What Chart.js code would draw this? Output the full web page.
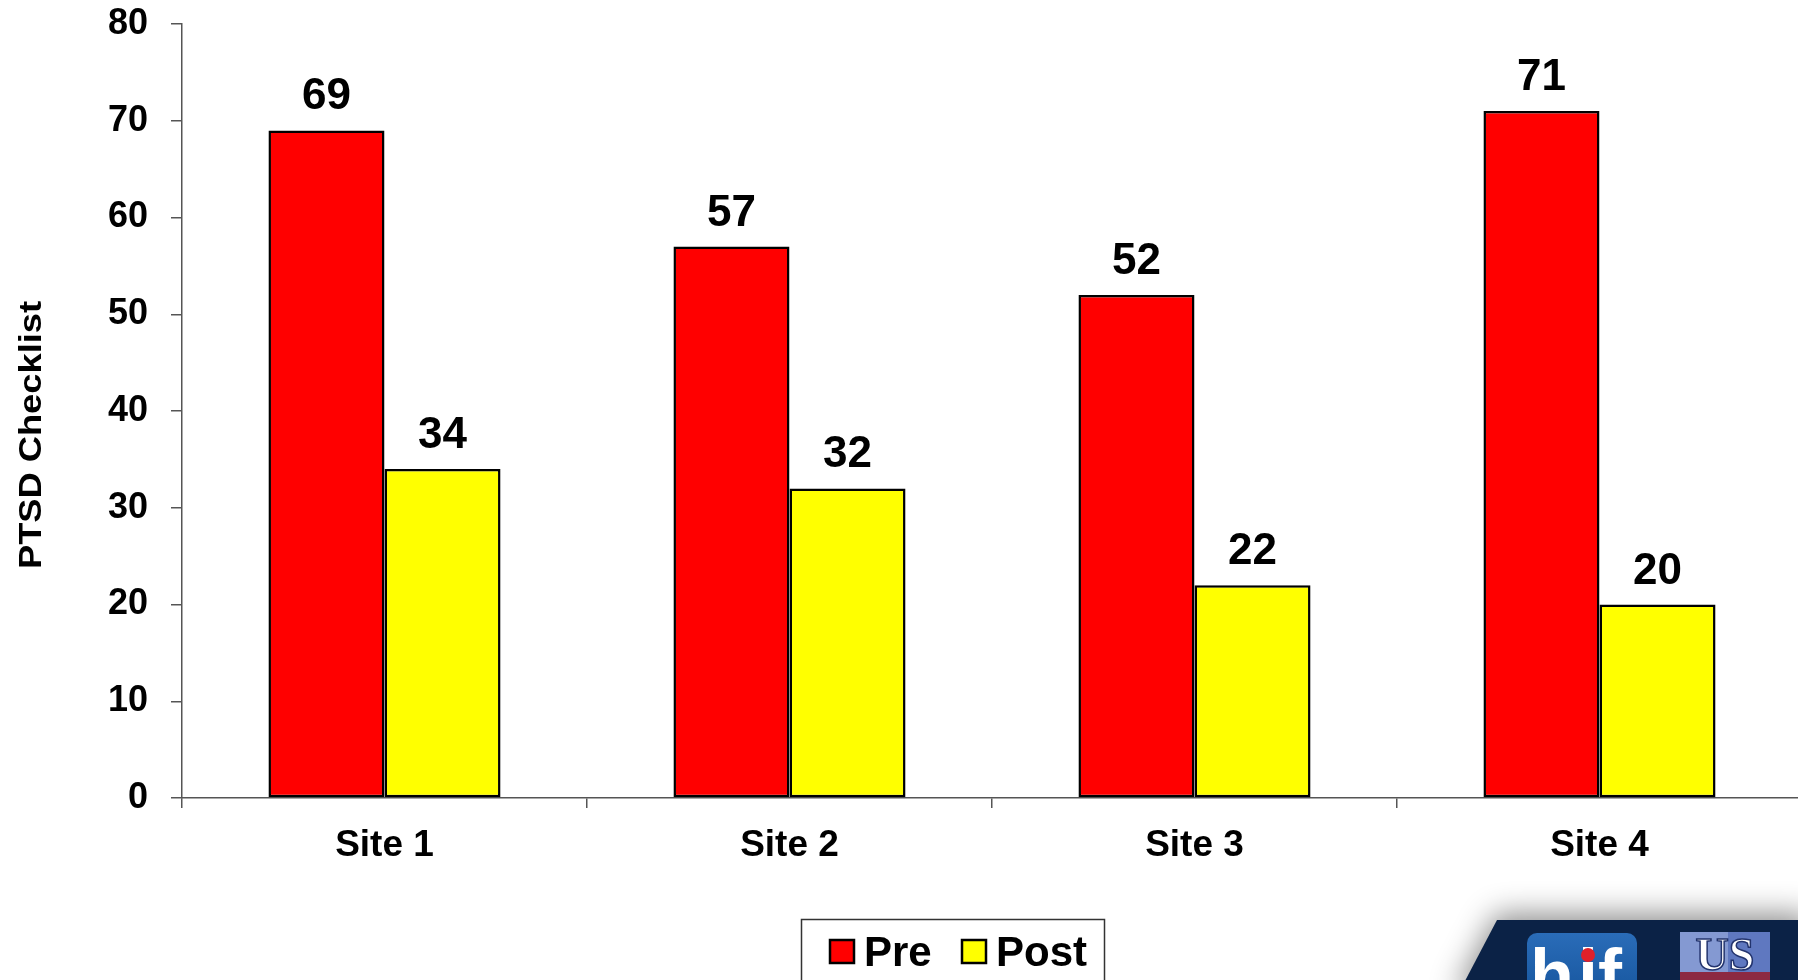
<!DOCTYPE html>
<html>
<head>
<meta charset="utf-8">
<title>PTSD Checklist by site</title>
<script src="https://cdn.jsdelivr.net/npm/chart.js@4/dist/chart.umd.min.js"></script>
<style>
  html, body { margin: 0; padding: 0; background: #fff; overflow: hidden; }
  #wrap { width: 1802px; height: 980px; }
</style>
</head>
<body>
<div id="wrap"><canvas id="chart" width="1802" height="980"></canvas></div>
<script>
// Chart data
const categories = ['Site 1', 'Site 2', 'Site 3', 'Site 4'];
const preValues = [69, 57, 52, 71];
const postValues = [34, 32, 22, 20];
const seriesNames = ['Pre', 'Post'];
const yAxisTitle = 'PTSD Checklist';
const yMin = 0, yMax = 80, yStep = 10;

const FONT = '"Liberation Sans", Arial, Helvetica, sans-serif';
const AXIS_COLOR = '#555555';

// Value labels above each bar
const valueLabels = {
  id: 'valueLabels',
  afterDatasetsDraw(chart) {
    const ctx = chart.ctx;
    ctx.save();
    ctx.fillStyle = '#000';
    ctx.font = 'bold 44px ' + FONT;
    ctx.textAlign = 'center';
    ctx.textBaseline = 'alphabetic';
    chart.data.datasets.forEach((ds, di) => {
      const meta = chart.getDatasetMeta(di);
      meta.data.forEach((bar, i) => {
        ctx.fillText(String(ds.data[i]), bar.x, bar.y - 21);
      });
    });
    ctx.restore();
  }
};

// Axis title, boxed legend and the corner badge
const decorations = {
  id: 'decorations',
  afterDraw(chart) {
    const ctx = chart.ctx;

    // rotated y-axis title (slightly widened lettering)
    ctx.save();
    ctx.translate(32, 435);
    ctx.rotate(-Math.PI / 2);
    ctx.scale(1.17, 1);
    ctx.fillStyle = '#000';
    ctx.font = 'bold 31px ' + FONT;
    ctx.textAlign = 'center';
    ctx.textBaseline = 'middle';
    ctx.fillText(yAxisTitle, 0, 0);
    ctx.restore();

    // legend frame and entries
    ctx.save();
    ctx.strokeStyle = '#333';
    ctx.lineWidth = 1.5;
    ctx.strokeRect(801.5, 919.5, 303, 120);
    const entries = [
      { x: 830, tx: 864 },
      { x: 962, tx: 996 }
    ];
    ctx.font = 'bold 42px ' + FONT;
    ctx.textBaseline = 'alphabetic';
    ctx.textAlign = 'left';
    chart.data.datasets.forEach((ds, i) => {
      const e = entries[i];
      ctx.fillStyle = ds.backgroundColor;
      ctx.fillRect(e.x, 940, 24, 23);
      ctx.strokeStyle = '#000';
      ctx.lineWidth = 2.5;
      ctx.strokeRect(e.x, 940, 24, 23);
      ctx.fillStyle = '#000';
      ctx.fillText(ds.label, e.tx, 966);
    });
    ctx.restore();

    // badge in the lower right corner
    ctx.save();
    ctx.shadowColor = 'rgba(0,0,0,0.45)';
    ctx.shadowBlur = 30;
    ctx.shadowOffsetY = -6;
    ctx.fillStyle = '#0b2246';
    ctx.beginPath();
    ctx.moveTo(1497, 920);
    ctx.lineTo(1810, 920);
    ctx.lineTo(1810, 1000);
    ctx.lineTo(1455, 1000);
    ctx.closePath();
    ctx.fill();
    ctx.restore();

    ctx.save();
    // blue rounded tile
    const g = ctx.createLinearGradient(0, 933, 0, 985);
    g.addColorStop(0, '#2a6cb8');
    g.addColorStop(1, '#1a5aa3');
    ctx.fillStyle = g;
    ctx.beginPath();
    ctx.roundRect(1527, 933, 110, 70, 10);
    ctx.fill();
    ctx.fillStyle = '#fff';
    ctx.font = 'bold 72px ' + FONT;
    ctx.textBaseline = 'alphabetic';
    ctx.textAlign = 'left';
    ctx.fillText('h', 1530, 1000);
    ctx.fillText('i', 1578, 1000);
    ctx.fillText('f', 1598, 1000);
    ctx.fillStyle = '#e0202a';
    ctx.beginPath();
    ctx.arc(1588, 955, 7, 0, Math.PI * 2);
    ctx.fill();

    // second tile
    ctx.fillStyle = '#8499d2';
    ctx.fillRect(1680, 932, 90, 60);
    ctx.fillStyle = '#5f78c0';
    ctx.fillRect(1728, 932, 42, 40);
    ctx.fillStyle = '#8c2942';
    ctx.fillRect(1680, 972, 90, 20);
    ctx.font = 'bold 46px "Liberation Serif", "Times New Roman", serif';
    ctx.textAlign = 'center';
    ctx.fillStyle = '#fff';
    ctx.strokeStyle = '#23346e';
    ctx.lineWidth = 1.5;
    ctx.fillText('US', 1725, 970);
    ctx.strokeText('US', 1725, 970);
    ctx.restore();
  }
};

new Chart(document.getElementById('chart'), {
  type: 'bar',
  data: {
    labels: categories,
    datasets: [
      {
        label: seriesNames[0],
        data: preValues,
        backgroundColor: '#ff0000',
        borderColor: '#000',
        borderWidth: 2.5,
        borderSkipped: false,
        categoryPercentage: 0.573,
        barPercentage: 1
      },
      {
        label: seriesNames[1],
        data: postValues,
        backgroundColor: '#ffff00',
        borderColor: '#000',
        borderWidth: 2.5,
        borderSkipped: false,
        categoryPercentage: 0.573,
        barPercentage: 1
      }
    ]
  },
  options: {
    responsive: false,
    animation: false,
    devicePixelRatio: 1,
    layout: { padding: { top: 24, left: 0, right: 0, bottom: 0 } },
    plugins: {
      legend: { display: false },
      tooltip: { enabled: false }
    },
    scales: {
      x: {
        ticks: { color: '#000', font: { family: FONT, size: 37, weight: 'bold' }, padding: 16 },
        grid: { drawOnChartArea: false, drawTicks: true, tickLength: 10, color: AXIS_COLOR, lineWidth: 1.5, offset: true },
        border: { display: true, color: AXIS_COLOR, width: 1.5 },
        afterFit(scale) {
          scale.height = 182;
          scale.paddingLeft = 0;
          scale.paddingRight = 0;
        }
      },
      y: {
        min: yMin,
        max: yMax,
        ticks: { stepSize: yStep, color: '#000', font: { family: FONT, size: 36, weight: 'bold' }, padding: 23 },
        grid: { drawOnChartArea: false, drawTicks: true, tickLength: 11, color: AXIS_COLOR, lineWidth: 1.5 },
        border: { display: true, color: AXIS_COLOR, width: 1.5 },
        afterFit(scale) {
          scale.width = 182;
          scale.paddingTop = 0;
          scale.paddingBottom = 0;
        }
      }
    }
  },
  plugins: [valueLabels, decorations]
});
</script>
</body>
</html>
